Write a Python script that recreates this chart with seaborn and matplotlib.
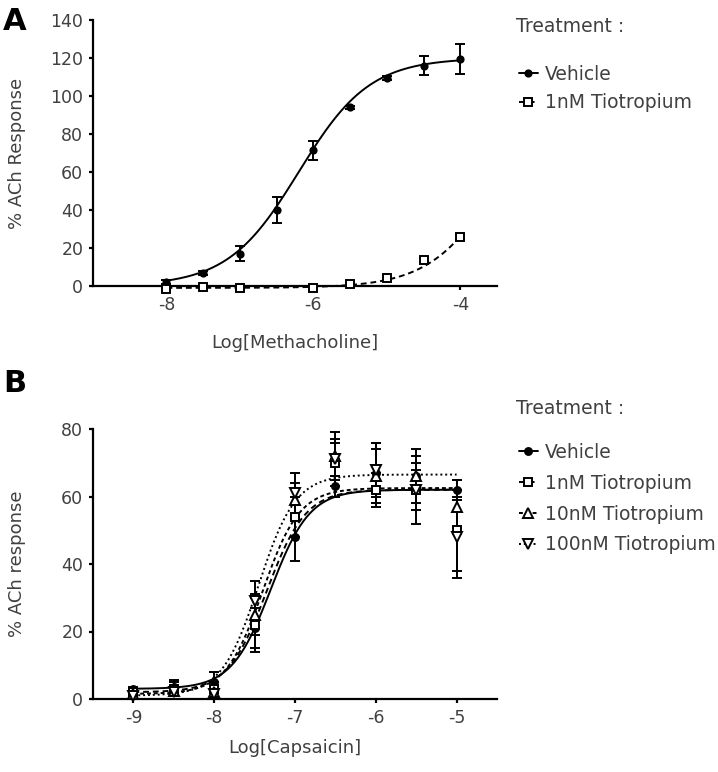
"""
Concentration-response curves: ACh response vs methacholine / capsaicin
"""

import numpy as np
import pandas as pd
import seaborn as sns
import matplotlib.pyplot as plt

# ---- panel A data (methacholine) ----
log_mch = [-8, -7.5, -7, -6.5, -6, -5.5, -5, -4.5, -4]
veh_a_mean = [2, 7, 17, 40, 71.5, 94, 109.5, 116, 119.5]
veh_a_sem = [1, 1, 4, 7, 5, 1, 1, 5, 8]
tio_a_mean = [-1.5, -0.5, -1, None, -1, 1, 4, 13.5, 26]
tio_a_sem = [0.5, 0.5, 0.5, None, 0.5, 0.5, 1, 1, 1]
# fitted curve parameters: bottom, top, logEC50, hill
veh_a_fit = [0, 120, -6.2, 0.9]
tio_a_fit = [-1, 120, -3.4, 0.9]

# ---- panel B data (capsaicin) ----
log_cap = [-9, -8.5, -8, -7.5, -7, -6.5, -6, -5.5, -5]
veh_b_mean = [3, 3.5, 5, 21, 48, 63, 67, 66, 62]
veh_b_sem = [0.5, 2, 3, 6, 7, 3, 9, 8, 3]
n1_b_mean = [2, 3, 3, 22, 54, 70, 62, 62, 50]
n1_b_sem = [1, 2, 2, 8, 6, 7, 5, 10, 12]
n10_b_mean = [1.5, 2.5, 2, 25, 59, 72, 66, 66, 57]
n10_b_sem = [1, 1.5, 2, 6, 5, 7, 8, 4, 8]
n100_b_mean = [1, 2, 1.5, 29, 61, 71, 68, 62, 48]
n100_b_sem = [1, 1, 1.5, 6, 6, 5, 8, 6, 12]
veh_b_fit = [3, 62, -7.3, 1.8]
n1_b_fit = [2, 62, -7.35, 1.8]
n10_b_fit = [1.5, 62.5, -7.4, 1.9]
n100_b_fit = [1, 66.5, -7.45, 1.9]


def logistic(x, p):
    bottom, top, x0, h = p
    return bottom + (top - bottom) / (1 + 10 ** ((x0 - x) * h))


sns.set_theme(style="ticks")
plt.rcParams["font.family"] = ["DejaVu Sans"]
grey = "#404040"

fig = plt.figure(figsize=(7.18, 7.72), dpi=100)
axA = fig.add_axes([93 / 718, 1 - 286 / 772, 404 / 718, 266 / 772])
axB = fig.add_axes([93 / 718, 1 - 699 / 772, 404 / 718, 270 / 772])


def draw(ax, x, mean, sem, fit, marker, ls, mfc, ms, label):
    xs = np.linspace(x[0], x[-1], 300)
    curve = pd.DataFrame({"x": xs, "y": logistic(xs, fit)})
    sns.lineplot(data=curve, x="x", y="y", ax=ax, color="black", lw=1.4,
                 linestyle=ls, clip_on=False, legend=False)
    pts = pd.DataFrame({"x": x, "y": mean, "e": sem}).dropna()
    ax.errorbar(pts["x"], pts["y"], yerr=pts["e"], fmt="none", ecolor="black",
                elinewidth=1.4, capsize=3.6, capthick=1.4, clip_on=False)
    ax.plot(pts["x"], pts["y"], linestyle="none", marker=marker, ms=ms,
            mfc=mfc, mec="black", mew=1.4, clip_on=False, zorder=5)
    # legend handle (not attached to the axes)
    h = plt.Line2D([], [], color="black", lw=1.4, linestyle=ls, marker=marker,
                   ms=ms, mfc=mfc, mec="black", mew=1.4, label=label)
    return h


def style(ax, xlim, ylim, xticks, yticks, xlabel, ylabel, xl_y):
    ax.set_xlim(*xlim)
    ax.set_ylim(*ylim)
    ax.set_xticks(xticks)
    ax.set_yticks(yticks)
    ax.set_xticklabels([str(t) for t in xticks])
    sns.despine(ax=ax)
    for s in ["left", "bottom"]:
        ax.spines[s].set_linewidth(1.6)
        ax.spines[s].set_color("black")
    ax.tick_params(axis="both", direction="out", length=3, width=1.6,
                   color="black", labelsize=12.5, labelcolor=grey, pad=4)
    ax.set_xlabel(xlabel, fontsize=13, color=grey)
    ax.set_ylabel(ylabel, fontsize=13, color=grey)
    ax.yaxis.set_label_coords(-0.166, 0.5)
    ax.xaxis.set_label_coords(0.5, xl_y)


# panel A
hA = [
    draw(axA, log_mch, veh_a_mean, veh_a_sem, veh_a_fit, "o", "-", "black", 4.5, "Vehicle"),
    draw(axA, log_mch, tio_a_mean, tio_a_sem, tio_a_fit, "s", (0, (3, 2)), "white", 6, "1nM Tiotropium"),
]
style(axA, (-9, -3.5), (0, 140), [-8, -6, -4], range(0, 141, 20),
      "Log[Methacholine]", "% ACh Response", -0.18)

# panel B
hB = [
    draw(axB, log_cap, veh_b_mean, veh_b_sem, veh_b_fit, "o", "-", "black", 5, "Vehicle"),
    draw(axB, log_cap, n1_b_mean, n1_b_sem, n1_b_fit, "s", (0, (3, 2)), "white", 6, "1nM Tiotropium"),
    draw(axB, log_cap, n10_b_mean, n10_b_sem, n10_b_fit, "^", (0, (2, 1.5)), "white", 6.5, "10nM Tiotropium"),
    draw(axB, log_cap, n100_b_mean, n100_b_sem, n100_b_fit, "v", (0, (1, 1.5)), "white", 6.5, "100nM Tiotropium"),
]
style(axB, (-9.5, -4.5), (0, 80), [-9, -8, -7, -6, -5], range(0, 81, 20),
      "Log[Capsaicin]", "% ACh response", -0.148)

# legends
for y_title, y_top, handles, spacing in [(26, 65, hA, 0.49), (408, 443, hB, 0.63)]:
    fig.text(516 / 718, 1 - y_title / 772, "Treatment :", fontsize=13.5,
             color=grey, va="center", ha="left")
    fig.legend(handles=handles, loc="upper left",
               bbox_to_anchor=(519 / 718, 1 - y_top / 772), frameon=False,
               fontsize=13.5, labelcolor=grey, handlelength=1.0,
               handletextpad=0.4, labelspacing=spacing, borderpad=0,
               borderaxespad=0)

fig.text(3 / 718, 1 - 21 / 772, "A", fontsize=22, fontweight="bold",
         color="black", va="center")
fig.text(3 / 718, 1 - 384 / 772, "B", fontsize=22, fontweight="bold",
         color="black", va="center")

fig.savefig("out.png", dpi=100)
